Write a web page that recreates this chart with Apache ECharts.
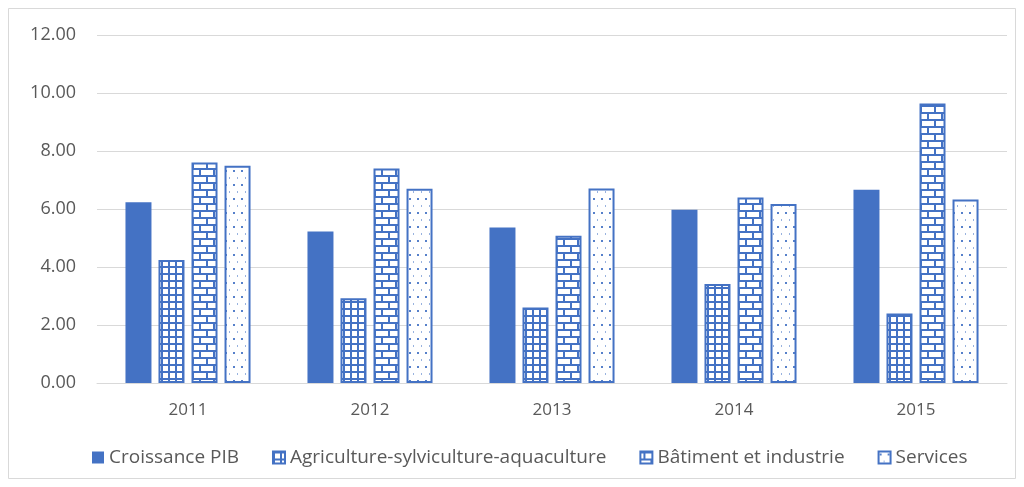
<!DOCTYPE html>
<html>
<head>
<meta charset="utf-8">
<script src="https://cdn.jsdelivr.net/npm/echarts@6/dist/echarts.min.js"></script>
<style>
html,body{margin:0;padding:0;background:#fff;}
#chart{width:1024px;height:487px;}
</style>
</head>
<body>
<div id="chart"></div>
<script>
// Years on the category axis
const years = ['2011', '2012', '2013', '2014', '2015'];
// Series names
const seriesNames = ['Croissance PIB', 'Agriculture-sylviculture-aquaculture', 'Bâtiment et industrie', 'Services'];
// Growth rates (%) per series
const croissancePIB = [6.23, 5.22, 5.36, 5.97, 6.66];
const agriculture = [4.24, 2.92, 2.60, 3.41, 2.40];
const batiment = [7.60, 7.40, 5.08, 6.40, 9.64];
const services = [7.49, 6.70, 6.71, 6.17, 6.33];

const BLUE = '#4472C4';

function tile(w, h, draw) {
  const c = document.createElement('canvas');
  c.width = w; c.height = h;
  const ctx = c.getContext('2d');
  ctx.fillStyle = '#ffffff';
  ctx.fillRect(0, 0, w, h);
  ctx.fillStyle = BLUE;
  draw(ctx);
  return c;
}
// small grid
const gridTile = tile(7, 7, ctx => {
  ctx.fillRect(0, 0, 7, 2);
  ctx.fillRect(0, 0, 2, 7);
});
// brick wall
const brickTile = tile(14, 14, ctx => {
  ctx.fillRect(0, 0, 14, 2);
  ctx.fillRect(0, 7, 14, 2);
  ctx.fillRect(3, 0, 2, 7);
  ctx.fillRect(10, 7, 2, 7);
});
// sparse dots
const dotTile = tile(8, 14, ctx => {
  ctx.globalAlpha = 0.9;
  ctx.fillRect(1, 2, 2, 2);
  ctx.globalAlpha = 0.55;
  ctx.fillRect(5, 9, 1, 2);
});

const fills = [
  BLUE,
  { image: gridTile, repeat: 'repeat' },
  { image: brickTile, repeat: 'repeat' },
  { image: dotTile, repeat: 'repeat' }
];
const values = [croissancePIB, agriculture, batiment, services];

const chart = echarts.init(document.getElementById('chart'), null, { renderer: 'canvas' });
chart.setOption({
  backgroundColor: '#ffffff',
  animation: false,
  textStyle: { fontFamily: 'Open Sans' },
  graphic: [{
    type: 'rect',
    shape: { x: 8.5, y: 8.5, width: 1007, height: 470 },
    style: { fill: 'none', stroke: '#d9d9d9', lineWidth: 1 },
    silent: true
  }],
  grid: { left: 97, right: 17, top: 35, bottom: 104 },
  legend: {
    bottom: 15,
    left: 87,
    itemWidth: 12,
    itemHeight: 12,
    itemGap: 33,
    icon: 'rect',
    textStyle: { color: '#595959', fontSize: 19, fontFamily: 'Open Sans' },
    data: seriesNames
  },
  xAxis: {
    type: 'category',
    data: years,
    axisLine: { lineStyle: { color: '#d9d9d9', width: 1 } },
    axisTick: { show: false },
    axisLabel: { color: '#595959', fontSize: 17, margin: 19 }
  },
  yAxis: {
    type: 'value',
    min: 0, max: 12, interval: 2,
    axisLine: { show: false },
    axisTick: { show: false },
    splitLine: { lineStyle: { color: '#d9d9d9', width: 1 } },
    axisLabel: { color: '#595959', fontSize: 18, margin: 21, formatter: v => v.toFixed(2) }
  },
  series: seriesNames.map((name, i) => ({
    name: name,
    type: 'bar',
    data: values[i],
    barWidth: 26,
    barGap: '27%',
    itemStyle: {
      color: fills[i],
      borderColor: BLUE,
      borderWidth: i === 0 ? 0 : 2
    }
  }))
});
</script>
</body>
</html>
